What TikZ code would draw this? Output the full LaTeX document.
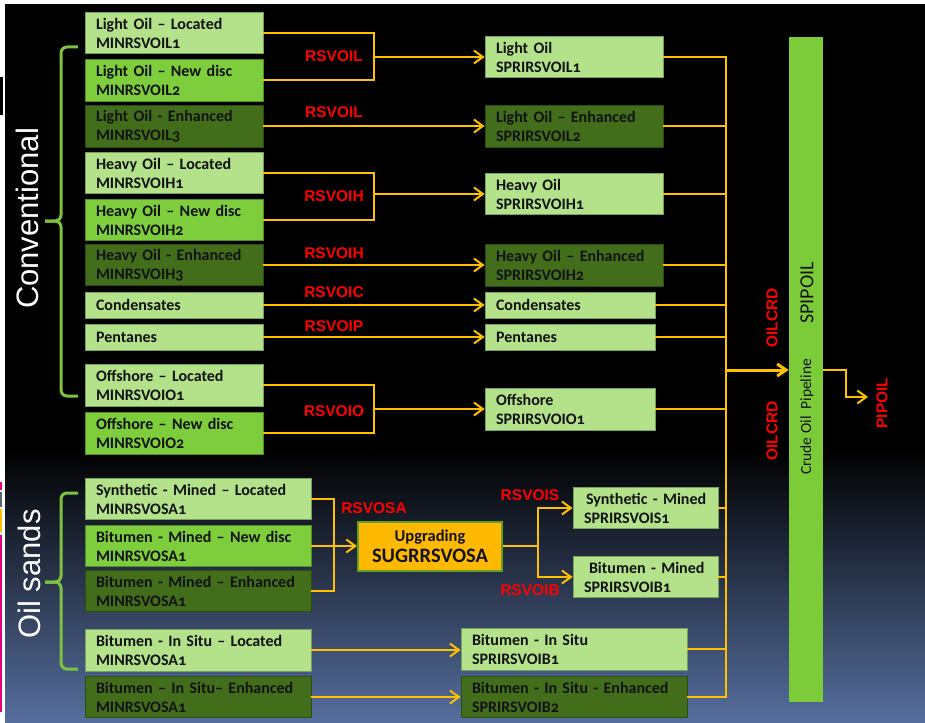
\documentclass[tikz,border=0pt]{standalone}
\usepackage{fontspec}
\setmainfont{Carlito}[Numbers=OldStyle]
\newfontfamily\arialf{Liberation Sans}
\usetikzlibrary{arrows.meta}
\newcommand\twol[2]{\mbox{#1}\\\mbox{#2}}
\definecolor{yel}{RGB}{255,192,0}
\definecolor{lg}{RGB}{179,226,139}
\definecolor{lgD}{RGB}{120,160,95}
\definecolor{mg}{RGB}{125,205,60}
\definecolor{mgD}{RGB}{85,140,40}
\definecolor{dg}{RGB}{66,110,28}
\definecolor{dgD}{RGB}{45,75,20}
\definecolor{barg}{RGB}{124,204,58}
\definecolor{brk}{RGB}{125,195,65}
\definecolor{upF}{RGB}{255,185,0}
\definecolor{upB}{RGB}{100,160,40}
\definecolor{boxtxt}{RGB}{18,18,18}
\definecolor{bgblue}{RGB}{86,110,158}
\definecolor{pinkm}{RGB}{230,0,120}
\definecolor{greym}{RGB}{90,100,110}
\tikzset{
  bx/.style={rectangle, inner xsep=11pt, inner ysep=0pt, align=left, text=boxtxt,
    font=\bfseries\fontsize{16}{19}\selectfont, line width=0.8pt},
  lb/.style={bx, fill=lg, draw=lgD},
  mb/.style={bx, fill=mg, draw=mgD},
  db/.style={bx, fill=dg, draw=dgD},
  conn/.style={draw=yel, line width=2pt},
  thinconn/.style={draw=yel, line width=2pt},
  arr/.style={conn, -{Straight Barb[length=9pt,width=13pt]}},
  lab/.style={text=red, font=\arialf\bfseries\fontsize{15.5}{16}\selectfont, inner sep=0pt},
  brace/.style={draw=brk, line width=3pt, rounded corners=6pt},
  side/.style={text=white, font=\arialf\fontsize{31}{31}\selectfont, inner sep=0pt, rotate=90},
}
\begin{document}
\begin{tikzpicture}[x=1pt,y=-1pt]
\useasboundingbox (0,0) rectangle (925,722);
% background
\fill[white] (0,0) rectangle (925,722);
\fill[black] (5,4) rectangle (925,451);
\shade[top color=black, bottom color=bgblue] (5,450) rectangle (925,722);
% left edge marks
\fill[black] (0,77) rectangle (3,115);
\fill[pinkm] (0,482) rectangle (2,490);
\fill[greym] (0,492) rectangle (2,507);
\fill[yel] (0,509) rectangle (2,532);
\fill[pinkm] (0,535) rectangle (2,712);

% side titles and braces
\node[side] (conv) at (27,218.5) {Conventional};
\node[side] (osand) at (29.5,574) {Oil sands};
\draw[brace] (78,47) -- (61,47) -- (61,221) -- (45,221);
\draw[brace] (78,396) -- (61,396) -- (61,221) -- (45,221);
\draw[brace] (78,493) -- (61,493) -- (61,582) -- (45,582);
\draw[brace] (78,669) -- (61,669) -- (61,582) -- (45,582);

% left column, conventional
\node[lb, text width=156pt, minimum height=41pt] (L1) at (174,33) {\twol{Light Oil – Located}{MINRSVOIL1}};
\node[mb, text width=156pt, minimum height=42pt] (L2) at (174,80) {\twol{Light Oil – New disc}{MINRSVOIL2}};
\node[db, text width=156pt, minimum height=42pt] (L3) at (174,126) {\twol{Light Oil - Enhanced}{MINRSVOIL3}};
\node[lb, text width=156pt, minimum height=41pt] (L4) at (174,173) {\twol{Heavy Oil – Located}{MINRSVOIH1}};
\node[mb, text width=156pt, minimum height=41pt] (L5) at (174,220) {\twol{Heavy Oil – New disc}{MINRSVOIH2}};
\node[db, text width=156pt, minimum height=41pt] (L6) at (174,265) {\twol{Heavy Oil - Enhanced}{MINRSVOIH3}};
\node[lb, text width=156pt, minimum height=26pt] (L7) at (174,305) {Condensates};
\node[lb, text width=156pt, minimum height=26pt] (L8) at (174,337) {Pentanes};
\node[lb, text width=156pt, minimum height=42pt] (L9) at (174,385) {\twol{Offshore – Located}{MINRSVOIO1}};
\node[mb, text width=156pt, minimum height=42pt] (L10) at (174,433) {\twol{Offshore – New disc}{MINRSVOIO2}};

% left column, oil sands
\node[lb, text width=204pt, minimum height=41pt] (S1) at (198,499) {\twol{Synthetic - Mined – Located}{MINRSVOSA1}};
\node[mb, text width=204pt, minimum height=41pt] (S2) at (198,546) {\twol{Bitumen - Mined – New disc}{MINRSVOSA1}};
\node[db, text width=204pt, minimum height=41pt] (S3) at (198,591) {\twol{Bitumen - Mined – Enhanced}{MINRSVOSA1}};
\node[lb, text width=204pt, minimum height=42pt] (S4) at (198,650) {\twol{Bitumen - In Situ – Located}{MINRSVOSA1}};
\node[db, text width=204pt, minimum height=41pt] (S5) at (198,697) {\twol{Bitumen – In Situ– Enhanced}{MINRSVOSA1}};

% right column
\node[lb, text width=156pt, minimum height=41pt] (R1) at (574,57) {\twol{Light Oil}{SPRIRSVOIL1}};
\node[db, text width=156pt, minimum height=42pt] (R2) at (574,126) {\twol{Light Oil – Enhanced}{SPRIRSVOIL2}};
\node[lb, text width=156pt, minimum height=41pt] (R3) at (574,194) {\twol{Heavy Oil}{SPRIRSVOIH1}};
\node[db, text width=156pt, minimum height=42pt] (R4) at (574,265) {\twol{Heavy Oil – Enhanced}{SPRIRSVOIH2}};
\node[lb, text width=148pt, minimum height=26pt] (R5) at (570,305) {Condensates};
\node[lb, text width=148pt, minimum height=26pt] (R6) at (570,337) {Pentanes};
\node[lb, text width=148pt, minimum height=42pt] (R7) at (570,409) {\twol{Offshore}{SPRIRSVOIO1}};
\node[lb, text width=123pt, minimum height=41pt] (R8) at (645.5,508) {\twol{\hspace{2pt}Synthetic - Mined}{SPRIRSVOIS1}};
\node[lb, text width=123pt, minimum height=41pt] (R9) at (645.5,577) {\twol{\hspace{5pt}Bitumen - Mined}{SPRIRSVOIB1}};
\node[lb, text width=204pt, minimum height=42pt] (R10) at (574,649) {\twol{Bitumen - In Situ}{SPRIRSVOIB1}};
\node[db, text width=204pt, minimum height=41pt] (R11) at (574,697) {\twol{Bitumen - In Situ - Enhanced}{SPRIRSVOIB2}};

% upgrading
\node[draw=upB, line width=2pt, fill=upF, minimum width=144pt, minimum height=49pt, align=center,
  inner sep=0pt, text=boxtxt, font=\bfseries\fontsize{20.5}{21}\selectfont] (U) at (430,546)
  {{\fontsize{16.5}{21}\selectfont Upgrading}\\SUGRRSVOSA};

% pipeline bar
\node[rectangle, fill=barg, minimum width=34pt, minimum height=665pt, inner sep=0pt] (bar) at (806,369.5) {};
\node[rotate=90, inner sep=0pt, text=boxtxt, font=\fontsize{20}{20}\selectfont] (spi) at (807,293) {SPIPOIL};
\node[rotate=90, inner sep=0pt, text=boxtxt, font=\fontsize{15.5}{16}\selectfont] (cop) at (807,417) {Crude Oil\ \ Pipeline};

% junctions
\coordinate (j1) at (374,0 |- R1.west);
\coordinate (j3) at (374,0 |- R3.west);
\coordinate (j7) at (374,0 |- R7.west);
\coordinate (ju) at (334,0 |- U.west);
\coordinate (jo) at (538,0 |- U.east);
\coordinate (ct) at (726,56);
\coordinate (cb) at (726,698);
\coordinate (cin) at (726,370);
\coordinate (pbend) at (846,397);
\coordinate (pend) at (868,397);

% connectors conventional
\draw[conn] (L1.east) -| (j1) |- (L2.east);
\draw[arr] (j1) -- (R1.west);
\draw[arr] (L3.east) -- (R2.west);
\draw[conn] (L4.east) -| (j3) |- (L5.east);
\draw[arr] (j3) -- (R3.west);
\draw[arr] (L6.east) -- (L6.east -| R4.west);
\draw[arr] (L7.east) -- (R5.west);
\draw[arr] (L8.east) -- (R6.west);
\draw[conn] (L9.east) -| (j7) |- (L10.east);
\draw[arr] (j7) -- (R7.west);

% connectors oil sands
\draw[conn] (S1.east) -| (ju) |- (S3.east);
\draw[conn] (S2.east) -- (ju);
\draw[arr] (ju) -- (U.west);
\draw[conn] (U.east) -- (jo);
\draw[arr] (jo) |- (R8.west);
\draw[arr] (jo) |- (R9.west);
\draw[arr] (S4.east) -- (S4.east -| R10.west);
\draw[arr] (S5.east) -- (R11.west);

% collector
\draw[thinconn] (ct) -- (cb);
\foreach \rr in {R1,R2,R3,R4,R5,R6,R7,R8,R9,R10,R11}
  \draw[thinconn] (\rr.east) -- (\rr.east -| ct);
\draw[conn, line width=3pt, -{Straight Barb[length=9pt,width=12pt]}] (cin) -- (cin -| bar.west);
\draw[arr] (cin -| bar.east) -| (pbend) -- (pend);

% labels
\node[lab] (t1) at (334,56) {RSVOIL};
\node[lab] (t2) at (334,112) {RSVOIL};
\node[lab] (t3) at (334,196) {RSVOIH};
\node[lab] (t4) at (334,253) {RSVOIH};
\node[lab] (t5) at (334,292) {RSVOIC};
\node[lab] (t6) at (334,326) {RSVOIP};
\node[lab] (t7) at (334,411) {RSVOIO};
\node[lab] (t8) at (374,508) {RSVOSA};
\node[lab] (t9) at (530,495) {RSVOIS};
\node[lab] (t10) at (530,590) {RSVOIB};
\node[lab, rotate=90] (t11) at (772,318) {OILCRD};
\node[lab, rotate=90] (t12) at (772,431) {OILCRD};
\node[lab, rotate=90] (t13) at (882,403) {PIPOIL};
\end{tikzpicture}
\end{document}
